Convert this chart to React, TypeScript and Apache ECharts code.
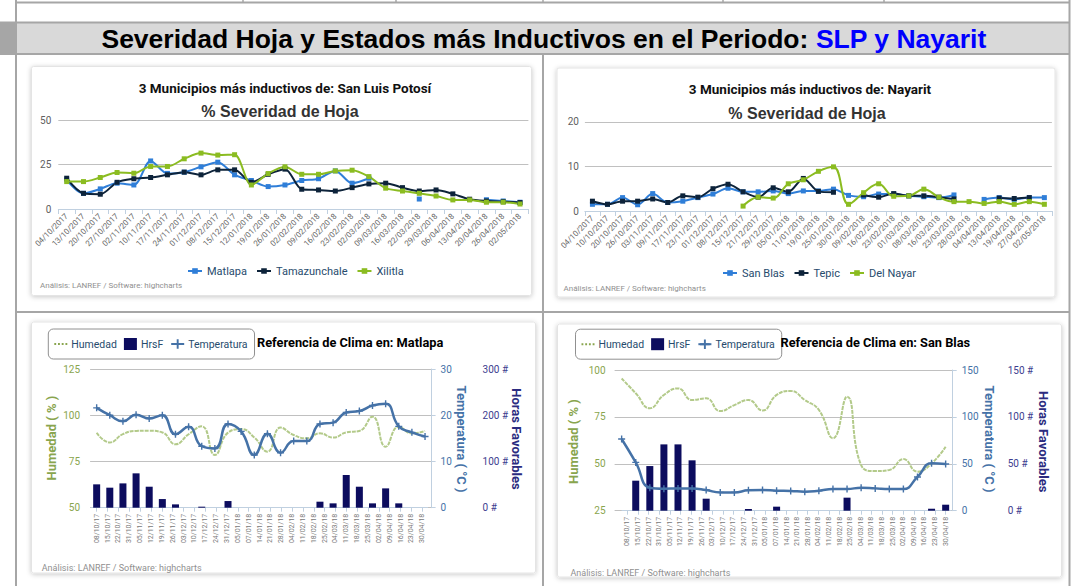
import React, { useEffect, useRef } from 'react';
import * as echarts from 'echarts';

// ---------- data ----------
const slpDates = ['04/10/2017','13/10/2017','20/10/2017','27/10/2017','02/11/2017','10/11/2017','17/11/2017','24/11/2017','01/12/2017','08/12/2017','15/12/2017','12/01/2018','19/01/2018','26/01/2018','02/02/2018','09/02/2018','16/02/2018','23/02/2018','02/03/2018','09/03/2018','16/03/2018','22/03/2018','29/03/2018','06/04/2018','13/04/2018','20/04/2018','26/04/2018','02/05/2018'];
const matlapa = [16.4, 8.8, 11.3, 14.5, 13.5, 27, 20, 20.7, 23.7, 26.3, 19.2, 16, 12.6, 13.5, 16, 17, 21.4, 14.5, 17.3, null, null, 5.6, null, null, null, 5.2, 4.5, 3.8];
const tamazunchale = [17.3, 8.8, 8.3, 15, 17, 17.7, 19.2, 20.7, 19.2, 22, 22, 15, 19.5, 22.4, 11.1, 10.7, 10.1, 12, 14.1, 14.5, 12, 10.1, 10.7, 8.5, 5.5, 4.5, 4.1, 3.6];
const xilitla = [15.4, 15.4, 17.7, 20.5, 20.1, 23.9, 23.9, 28.2, 31.4, 30.3, 30.5, 13.5, 19.9, 23.7, 19.5, 19.5, 21.4, 21.8, 18.2, 11.7, 10.1, 8.8, 7.3, 5.1, 5.1, 3.8, 3.8, 2.8];

const nayDates = ['04/10/2017','10/10/2017','20/10/2017','26/10/2017','03/11/2017','09/11/2017','17/11/2017','23/11/2017','01/12/2017','08/12/2017','15/12/2017','21/12/2017','29/12/2017','05/01/2018','11/01/2018','19/01/2018','25/01/2018','30/01/2018','09/02/2018','16/02/2018','23/02/2018','01/03/2018','08/03/2018','16/03/2018','23/03/2018','28/03/2018','04/04/2018','13/04/2018','19/04/2018','27/04/2018','02/05/2018'];
const sanBlas = [1.5, 1.5, 3, 1.4, 3.9, 1.9, 2.2, 3, 3.8, 5.1, 4.3, 4.3, 4.5, 3.9, 4.5, 4.5, 4.9, 3.5, 3.2, 3.8, 3.8, 3.4, 3.2, 3, 3.6, null, 2.6, 3, 2.6, 3, 3];
const tepic = [2.2, 1.5, 2.2, 2.2, 2.7, 1.9, 3.4, 3.1, 5, 6, 4.3, 3.1, 5.2, 4.3, 7.3, 4.4, 4.2, null, 3.6, 3.1, 3.9, 3.4, 3.4, 3.1, 2.7, null, null, 2.9, 2.8, 3, null];
const delNayar = [null, null, null, null, null, null, null, null, null, null, 1.1, 3.1, 2.9, 6.1, 7, 8.9, 9.9, 1.5, 4.1, 6.1, 3.3, 3.4, 4.9, 3.1, 2.1, 2.1, 1.7, 2.1, 1.5, 2.1, 1.5];

const climaDates = ['08/10/17','15/10/17','22/10/17','31/10/17','05/11/17','12/11/17','19/11/17','26/11/17','03/12/17','10/12/17','17/12/17','24/12/17','31/12/17','05/01/18','07/01/18','14/01/18','21/01/18','28/01/18','04/02/18','11/02/18','18/02/18','25/02/18','04/03/18','11/03/18','18/03/18','25/03/18','02/04/18','09/04/18','16/04/18','23/04/18','30/04/18'];

const matHumedad = [90.5, 85.3, 89.8, 91.5, 91.6, 90.7, 84.3, 89.7, 94, 78.5, 90.6, 92.5, 88, 80.3, 93.3, 89.3, 87.5, 90.2, 87.9, 90.7, 91.5, 99.2, 83, 93.8, 90.2, 91.5];
const matHrsF = [50.5, 43.3, 52.6, 74.3, 45.4, 18.7, 7.2, 0, 2.2, 0, 14.4, 0, 0, 0, 0, 0, 0, 13, 9.4, 70.7, 45.4, 9.4, 41.8, 9.4, 0, 0];
const matTemp = [21.6, 20.0, 18.7, 20.1, 19.3, 20.0, 15.9, 17.5, 13.3, 12.8, 18.1, 16.5, 11.4, 16.0, 11.9, 14.4, 14.4, 18.1, 18.4, 20.6, 20.9, 22.1, 22.5, 17.6, 16.3, 15.4];

const sbHumedad = [95.5, 87.6, 79.6, 86.7, 90.2, 84, 84.9, 78.1, 81.3, 84, 78.4, 86.7, 88.8, 84, 78.7, 63.6, 85.8, 49.3, 46.1, 46.7, 52.5, 45.8, 50.2, 59.1];
const sbHrsF = [0, 32, 47.6, 70.7, 70.7, 53.7, 12.8, 0, 0, 1.8, 0, 4.3, 0, 0, 0, 0, 13.9, 0, 0, 0, 0, 0, 2.1, 6.4];
const sbTemp = [76.4, 51.5, 24.5, 23.5, 23.8, 23.8, 22, 19.5, 19.5, 21.7, 22, 21.3, 21, 20.3, 21.3, 23.1, 23.1, 24.5, 23.8, 23.1, 23.1, 36, 50.5, 49.8];

// ---------- styles ----------
const F = 'Roboto';
const C1 = '#2f7ed8';
const C2 = '#0d233a';
const C3 = '#8bbc21';
const HUM = '#b3ca8a';
const HUM_AX = '#89A54E';
const TEMP = '#4572A7';
const BAR = '#0c0c5e';
const HRS = '#3d3d8f';
const AXL = '#C0D0E0';
const PLUS = 'path://M2,0L3,0L3,2L5,2L5,3L3,3L3,5L2,5L2,3L0,3L0,2L2,2Z';
const DOTS = 'path://M0,0h2v2h-2zM4,0h2v2h-2zM8,0h2v2h-2zM12,0h2v2h-2z';
const GRAYL = '#a6a6a6';

const line = (x1: number, y1: number, x2: number, y2: number, w = 2, c = GRAYL) => ({
  type: 'line', shape: { x1, y1, x2, y2 }, style: { stroke: c, lineWidth: w }, z: -5,
});
const card = (x: number, y: number, width: number, height: number) => ({
  type: 'rect', shape: { x, y, width, height, r: 2 },
  style: { fill: '#fff', stroke: '#e4e4e4', lineWidth: 1, shadowBlur: 5, shadowColor: 'rgba(0,0,0,0.22)', shadowOffsetY: 1 },
  z: -3,
});
const txt = (text: string, x: number, y: number, size: number, color: string, weight = 'normal', align = 'left', rotation = 0, family = F) => ({
  type: 'text', x, y, rotation, z: 10,
  style: { text, fill: color, fontSize: size, fontWeight: weight, fontFamily: family, align, verticalAlign: 'middle' },
});

const topX = (grid: number, data: string[]) => ({
  gridIndex: grid, type: 'category', data, boundaryGap: true,
  axisLine: { lineStyle: { color: AXL } },
  axisTick: { show: true, length: 5, lineStyle: { color: AXL } },
  axisLabel: { rotate: 45, fontSize: 8, color: '#666', margin: 6, interval: 0, fontFamily: F },
});
const topY = (grid: number, max: number, interval: number, margin: number) => ({
  gridIndex: grid, type: 'value', min: 0, max, interval,
  axisLine: { show: false }, axisTick: { show: false },
  axisLabel: { color: '#606060', fontSize: 10, margin, fontFamily: F },
  splitLine: { lineStyle: { color: '#C0C0C0' } },
});
const sevLine = (name: string, x: number, data: (number | null)[], color: string, smooth: number) => ({
  type: 'line', name, xAxisIndex: x, yAxisIndex: x, data, smooth,
  symbol: 'rect', symbolSize: 5, showAllSymbol: true,
  lineStyle: { width: 2, color }, itemStyle: { color },
});
const climaLegend = (left: number, top: number) => ({
  data: [{ name: 'Humedad', icon: DOTS, itemStyle: { color: HUM_AX } }, { name: 'HrsF', icon: 'rect' }, { name: 'Temperatura' }],
  left, top, orient: 'horizontal', selectedMode: false,
  borderColor: '#909090', borderWidth: 1, borderRadius: 5, padding: [9, 7, 9, 6],
  itemWidth: 13, itemHeight: 12, itemGap: 7,
  textStyle: { color: '#274b6d', fontSize: 10.5, fontFamily: F, padding: [0, 0, 0, -1] },
});
const climaSeries = (xi: number, yHum: number, yTemp: number, yHrs: number, hum: number[], hrs: number[], temp: number[]) => ([
  { type: 'bar', name: 'HrsF', xAxisIndex: xi, yAxisIndex: yHrs, data: hrs, barWidth: 7, itemStyle: { color: BAR } },
  { type: 'line', name: 'Humedad', xAxisIndex: xi, yAxisIndex: yHum, data: hum, smooth: 0.5, symbol: 'none', showSymbol: false,
    lineStyle: { width: 2, type: [4, 1], color: HUM }, itemStyle: { color: HUM } },
  { type: 'line', name: 'Temperatura', xAxisIndex: xi, yAxisIndex: yTemp, data: temp, smooth: 0.5, symbol: PLUS, symbolSize: 7, showAllSymbol: true,
    lineStyle: { width: 2.5, color: TEMP }, itemStyle: { color: TEMP } },
]);
const labelX = (grid: number) => ({
  gridIndex: grid, type: 'category', data: climaDates, boundaryGap: true,
  axisLine: { lineStyle: { color: AXL } },
  axisTick: { show: true, alignWithLabel: true, length: 4, lineStyle: { color: AXL } },
  axisLabel: { rotate: 90, fontSize: 7, color: '#777', margin: 6, interval: 0, fontFamily: F },
});
const humY = (grid: number, min: number, max: number, margin: number) => ({
  gridIndex: grid, type: 'value', position: 'left', min, max, interval: 25,
  axisLine: { show: false }, axisTick: { show: false },
  axisLabel: { color: HUM_AX, fontSize: 10, margin, fontFamily: F },
  splitLine: { lineStyle: { color: '#C0C0C0' } },
});
const tempY = (grid: number, max: number, interval: number) => ({
  gridIndex: grid, type: 'value', position: 'right', min: 0, max, interval,
  axisLine: { show: true, lineStyle: { color: AXL } },
  axisTick: { show: true, length: 4, lineStyle: { color: AXL } },
  axisLabel: { color: TEMP, fontSize: 10, margin: 9, fontFamily: F },
  splitLine: { show: false },
});
const hrsY = (grid: number, max: number, interval: number, offset: number) => ({
  gridIndex: grid, type: 'value', position: 'right', offset, min: 0, max, interval,
  axisLine: { show: false }, axisTick: { show: false },
  axisLabel: { color: HRS, fontSize: 10, margin: 9, fontFamily: F, formatter: '{value} #' },
  splitLine: { show: false },
});

const credit = 'Análisis: LANREF / Software: highcharts';

const option: any = {
  animation: false,
  backgroundColor: '#fff',
  textStyle: { fontFamily: F },
  grid: [
    { left: 58.3, right: 544.6, top: 120, bottom: 377 },
    { left: 584.9, right: 21.1, top: 121.8, bottom: 375 },
    { left: 90.1, right: 641.4, top: 369, bottom: 78.3 },
    { left: 91.3, right: 645.3, top: 369, bottom: 78.3 },
    { left: 614.6, right: 120.3, top: 370, bottom: 75.3 },
    { left: 622, right: 122, top: 370, bottom: 75.3 },
  ],
  xAxis: [
    topX(0, slpDates),
    topX(1, nayDates),
    { gridIndex: 2, type: 'category', show: false, boundaryGap: true },
    labelX(3),
    { gridIndex: 4, type: 'category', show: false, boundaryGap: true },
    labelX(5),
  ],
  yAxis: [
    topY(0, 50, 25, 7),
    topY(1, 20, 10, 6),
    humY(2, 50, 125, 10),
    tempY(2, 30, 10),
    hrsY(2, 300, 100, 42),
    { gridIndex: 3, type: 'value', show: false },
    humY(4, 25, 100, 9),
    tempY(4, 150, 50),
    hrsY(4, 150, 50, 46),
    { gridIndex: 5, type: 'value', show: false },
  ],
  legend: [
    { data: ['Matlapa', 'Tamazunchale', 'Xilitla'], left: 187, top: 265.5, padding: 0, itemWidth: 14, itemHeight: 7, itemGap: 9, selectedMode: false,
      textStyle: { color: '#274b6d', fontSize: 11, fontFamily: F } },
    { data: ['San Blas', 'Tepic', 'Del Nayar'], left: 722, top: 267.5, padding: 0, itemWidth: 14, itemHeight: 7, itemGap: 9, selectedMode: false,
      textStyle: { color: '#274b6d', fontSize: 11, fontFamily: F } },
    climaLegend(48.3, 329),
    climaLegend(575.5, 329.2),
  ],
  series: [
    sevLine('Matlapa', 0, matlapa, C1, 0.3),
    sevLine('Tamazunchale', 0, tamazunchale, C2, 0.3),
    sevLine('Xilitla', 0, xilitla, C3, 0.3),
    sevLine('San Blas', 1, sanBlas, C1, 0.3),
    sevLine('Tepic', 1, tepic, C2, 0.3),
    sevLine('Del Nayar', 1, delNayar, C3, 0.4),
    ...climaSeries(2, 2, 3, 4, matHumedad, matHrsF, matTemp),
    ...climaSeries(4, 6, 7, 8, sbHumedad, sbHrsF, sbTemp),
  ],
  graphic: [
    // page frame / report table
    line(16, 2.5, 1069.5, 2.5),
    line(243, 0, 243, 2.5, 1.5), line(396, 0, 396, 2.5, 1.5), line(543, 0, 543, 2.5, 1.5),
    line(723, 0, 723, 2.5, 1.5), line(884, 0, 884, 2.5, 1.5),
    { type: 'rect', shape: { x: 16, y: 22.5, width: 1053.5, height: 31.5 }, style: { fill: '#d9d9d9' }, z: -6 },
    { type: 'rect', shape: { x: 0, y: 22.5, width: 16, height: 31.5 }, style: { fill: GRAYL }, z: -6 },
    line(0, 22.5, 1069.5, 22.5),
    line(0, 54, 1069.5, 54),
    line(16, 0, 16, 586),
    line(1069.5, 0, 1069.5, 586),
    line(543, 54, 543, 586),
    line(16, 312, 1069.5, 312),
    card(31.5, 66.5, 500, 229),
    card(557, 68, 498, 229),
    card(31.5, 322, 504, 251),
    card(557.5, 324, 504, 253),
    {
      type: 'text', x: 544, y: 39, z: 10,
      style: {
        text: '{a|Severidad Hoja y Estados más Inductivos en el Periodo: }{b|SLP y Nayarit}',
        align: 'center', verticalAlign: 'middle',
        rich: {
          a: { fontSize: 26.5, fontWeight: 'bold', fontFamily: 'Liberation Sans', fill: '#000', color: '#000' },
          b: { fontSize: 26.5, fontWeight: 'bold', fontFamily: 'Liberation Sans', fill: '#0000ff', color: '#0000ff' },
        },
      },
    },
    // chart titles
    txt('3 Municipios más inductivos de: San Luis Potosí', 285, 87.7, 13.5, '#111', 'bold', 'center'),
    txt('% Severidad de Hoja', 280, 111.7, 16, '#333', 'bold', 'center', 0, 'Liberation Sans'),
    txt('3 Municipios más inductivos de: Nayarit', 810, 88.6, 13.5, '#111', 'bold', 'center'),
    txt('% Severidad de Hoja', 807, 113.3, 16, '#333', 'bold', 'center', 0, 'Liberation Sans'),
    txt('Referencia de Clima en: Matlapa', 257, 342.3, 12.8, '#000', 'bold', 'left'),
    txt('Referencia de Clima en: San Blas', 780.5, 342.7, 12.8, '#000', 'bold', 'left'),
    // axis names
    txt('Humedad ( % )', 51.7, 438, 13, HUM_AX, 'bold', 'center', Math.PI / 2),
    txt('Temperatura ( °C )', 461.7, 439, 13, TEMP, 'bold', 'center', -Math.PI / 2),
    txt('Horas Favorables', 516.7, 439, 13, '#2b2b80', 'bold', 'center', -Math.PI / 2),
    txt('Humedad ( % )', 573.8, 441.5, 13, HUM_AX, 'bold', 'center', Math.PI / 2),
    txt('Temperatura ( °C )', 989.3, 439, 13, TEMP, 'bold', 'center', -Math.PI / 2),
    txt('Horas Favorables', 1043.4, 441.7, 13, '#2b2b80', 'bold', 'center', -Math.PI / 2),
    // credits
    txt(credit, 40, 285.7, 8, '#909090'),
    txt(credit, 563.6, 288.6, 8, '#909090'),
    txt(credit, 41.7, 568.3, 9, '#909090'),
    txt(credit, 570.4, 573.4, 9, '#909090'),
  ],
};

export default function App() {
  const ref = useRef<HTMLDivElement>(null);
  useEffect(() => {
    if (!ref.current) return;
    const chart = echarts.init(ref.current, undefined, { renderer: 'svg', width: 1073, height: 586 });
    chart.setOption(option);
    return () => chart.dispose();
  }, []);
  return (
    <div
      ref={ref}
      style={{ position: 'fixed', left: 0, top: 0, width: 1073, height: 586, background: '#fff' }}
    />
  );
}
